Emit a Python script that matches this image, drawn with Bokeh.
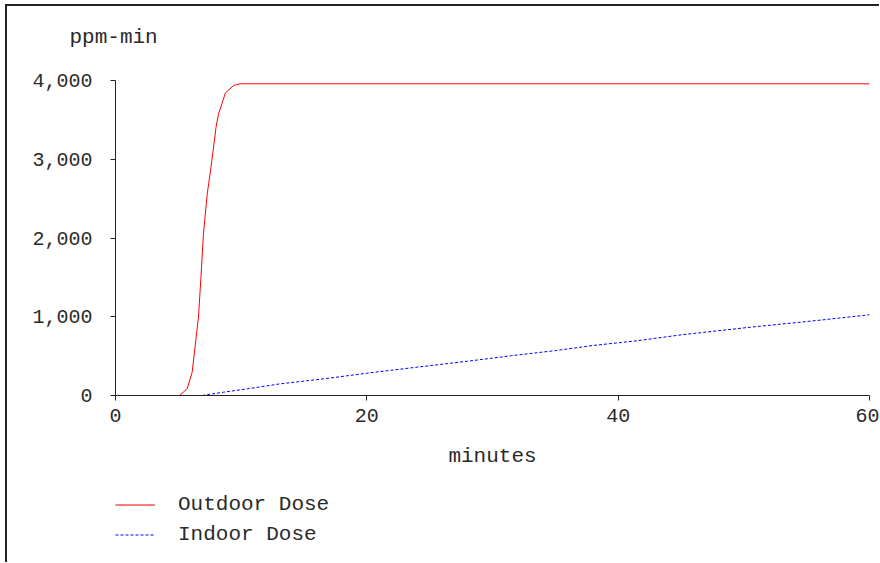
from bokeh.plotting import figure
from bokeh.layouts import column
from bokeh.models import Range1d, NumeralTickFormatter, FixedTicker, Title, Legend, LegendItem
from bokeh.embed import file_html
from bokeh.resources import INLINE

# Data
outdoor_minutes = [5.1, 5.7, 6.1, 6.6, 6.8, 7.0, 7.3, 7.6, 8.0, 8.2, 8.75, 9.4, 9.9, 60.0]
outdoor_dose = [0, 85, 296, 994, 1502, 2053, 2560, 2900, 3407, 3576, 3843, 3937, 3958, 3958]

indoor_minutes = [6.9, 8.6, 10.5, 13.1, 16.6, 20.0, 24.0, 28.0, 31.5, 35.0, 38.0, 41.5, 45.0, 50.5, 55.8, 60.0]
indoor_dose = [0, 42, 85, 148, 212, 283, 360, 435, 505, 570, 635, 695, 770, 867, 952, 1025]

x_ticks = [0, 20, 40, 60]
y_ticks = [0, 1000, 2000, 3000, 4000]
series_names = ["Outdoor Dose", "Indoor Dose"]

FONT = "Liberation Mono"
TXT = "#2a2a2a"
RED = "#ff0000"
BLUE = "#0000ff"
DASH = "3 2"

p = figure(width=872, height=478, output_backend="svg", toolbar_location=None,
           x_range=Range1d(0, 60), y_range=Range1d(0, 4000),
           min_border_left=108, min_border_right=10, min_border_top=74, min_border_bottom=89)
p.outline_line_color = None
p.grid.visible = False
p.background_fill_color = "white"
p.border_fill_color = "white"

for ax in (p.xaxis[0], p.yaxis[0]):
    ax.major_tick_in = 0
    ax.major_tick_out = 5
    ax.minor_tick_line_color = None
    ax.axis_line_color = "#222222"
    ax.major_tick_line_color = "#222222"
    ax.major_label_text_font = FONT
    ax.major_label_text_font_size = "20px"
    ax.major_label_text_color = TXT

p.xaxis.ticker = FixedTicker(ticks=x_ticks)
p.yaxis.ticker = FixedTicker(ticks=y_ticks)
p.yaxis.formatter = NumeralTickFormatter(format="0,0")
p.xaxis.major_label_standoff = 8
p.yaxis.major_label_standoff = 18

p.xaxis.axis_label = "minutes"
p.xaxis.axis_label_text_font = FONT
p.xaxis.axis_label_text_font_size = "21px"
p.xaxis.axis_label_text_font_style = "normal"
p.xaxis.axis_label_text_color = TXT
p.xaxis.axis_label_standoff = 20

p.line(outdoor_minutes, outdoor_dose, line_color=RED, line_width=1)
p.line(indoor_minutes, indoor_dose, line_color=BLUE, line_width=1, line_dash=DASH)

# spacer (closest to frame), then the unit label above it
p.add_layout(Title(text=" ", standoff=7, text_font=FONT, text_font_size="21px"), "above")
p.add_layout(Title(text="ppm-min", align="left", offset=-46, standoff=0,
                   text_font=FONT, text_font_size="21px", text_font_style="normal",
                   text_color=TXT), "above")

# legend strip below the chart (its sample lines lie outside its own view range)
q = figure(width=872, height=78, output_backend="svg", toolbar_location=None,
           x_range=Range1d(-2, -1), y_range=Range1d(-2, -1),
           x_axis_type=None, y_axis_type=None,
           min_border_left=0, min_border_right=0, min_border_top=0, min_border_bottom=0)
q.outline_line_color = None
q.grid.visible = False
q.background_fill_color = "white"
q.border_fill_color = "white"
k_out = q.line(outdoor_minutes, outdoor_dose, line_color=RED, line_width=1)
k_in = q.line(indoor_minutes, indoor_dose, line_color=BLUE, line_width=1, line_dash=DASH)

legend = Legend(items=[LegendItem(label=series_names[0], renderers=[k_out]),
                       LegendItem(label=series_names[1], renderers=[k_in])],
                location=(0, 15), orientation="vertical",
                glyph_width=40, glyph_height=25, label_height=25, spacing=5,
                label_standoff=23, padding=0, margin=0,
                label_text_font=FONT, label_text_font_size="21px", label_text_color=TXT,
                border_line_color=None, background_fill_alpha=0)
q.add_layout(legend, "center")

layout = column(p, q, spacing=0,
                styles={"margin-left": "5px", "margin-top": "4px",
                        "border-left": "2px solid #222", "border-top": "2px solid #222"})

open("out.html", "w").write(file_html(layout, INLINE))
